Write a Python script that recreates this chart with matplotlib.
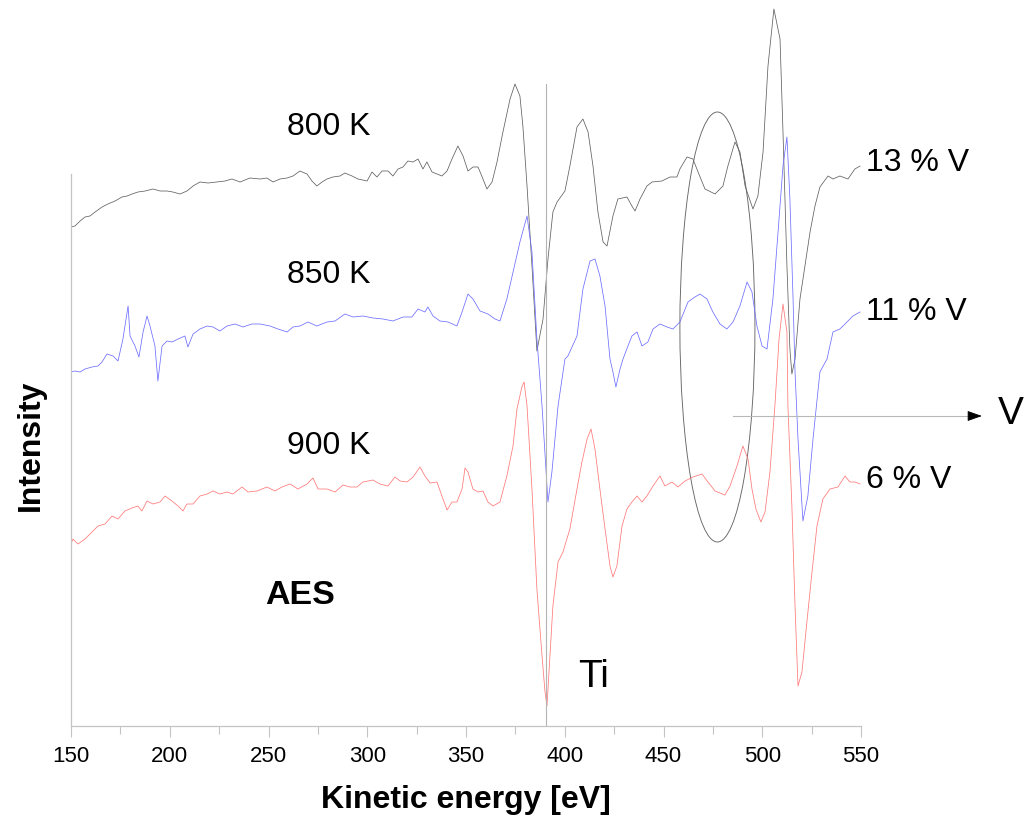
import matplotlib
matplotlib.use("Agg")
import matplotlib.pyplot as plt
from matplotlib.patches import Ellipse
from matplotlib.ticker import MultipleLocator

plt.rcParams['font.family'] = ['Liberation Sans', 'DejaVu Sans']

# AES spectra (kinetic energy in eV, intensity in arbitrary units, traces stacked)
black_ev = [150, 152.0, 154.6, 157.1, 159.6, 162.2, 165.7, 168.7, 172.3, 175.8,
            178.4, 180.9, 183.9, 187.5, 191.5, 195.1, 198.6, 201.6, 205.2, 208.7,
            211.8, 215.3, 219.4, 223.9, 228.0, 231.5, 235.6, 240.6, 245.7, 249.2,
            252.3, 255.8, 259.4, 262.4, 265.9, 269.5, 272.0, 274.5, 277.1, 279.6,
            282.6, 286.2, 288.7, 292.3, 295.3, 299.9, 302.4, 304.9, 307.5, 310.5,
            313.0, 315.6, 318.1, 320.6, 323.2, 325.7, 328.2, 330.2, 332.8, 335.3,
            337.8, 340.4, 342.9, 345.9, 348.5, 351.0, 353.5, 356.1, 358.6, 360.6,
            363.2, 365.7, 368.7, 372.3, 374.8, 377.3, 378.8, 380.9, 383.4, 385.9,
            389.0, 391.5, 394.0, 396.1, 400.1, 402.6, 406.2, 409.2, 411.8, 414.3,
            416.8, 419.4, 421.4, 424.4, 426.9, 431.5, 434.0, 435.6, 438.1, 441.6,
            444.2, 449.2, 453.3, 456.8, 458.3, 461.9, 464.9, 467.5, 471.0, 476.1,
            480.1, 482.6, 486.2, 488.7, 491.3, 495.3, 497.8, 500.4, 502.9, 505.9,
            509.0, 510.5, 512.5, 514.0, 515.0, 516.6, 519.1, 521.6, 524.2, 526.7,
            529.2, 533.3, 535.8, 539.3, 543.4, 546.9, 549.5]
black_int = [499, 500, 505, 509, 510, 514, 519, 522, 525, 529,
             530, 532, 534, 535, 537, 535, 535, 534, 532, 535,
             540, 544, 543, 544, 545, 547, 544, 548, 547, 548,
             544, 547, 548, 550, 555, 552, 545, 540, 544, 547,
             549, 550, 553, 550, 547, 545, 554, 549, 555, 555,
             550, 557, 559, 565, 564, 567, 557, 564, 554, 552,
             550, 555, 567, 580, 570, 555, 559, 559, 547, 537,
             544, 564, 594, 627, 642, 630, 600, 540, 460, 375,
             407, 467, 514, 524, 535, 560, 599, 607, 594, 560,
             514, 484, 480, 510, 527, 529, 520, 515, 527, 540,
             544, 545, 549, 549, 557, 569, 567, 554, 537, 532,
             540, 560, 584, 574, 540, 517, 530, 574, 660, 717,
             687, 594, 460, 377, 352, 367, 427, 460, 494, 520,
             539, 550, 547, 550, 547, 557, 560]

blue_ev = [150, 152.0, 154.6, 157.1, 160.6, 163.7, 165.7, 168.2, 171.3, 173.8,
           176.3, 178.9, 179.9, 182.4, 184.4, 186.5, 188.5, 190.0, 192.5, 194.0,
           196.1, 198.6, 201.1, 204.2, 207.7, 209.2, 211.8, 215.3, 218.9, 221.9,
           225.4, 229.0, 233.0, 237.1, 241.6, 245.7, 250.8, 254.8, 259.4, 262.4,
           265.9, 270.0, 274.5, 279.6, 283.7, 288.7, 292.8, 297.8, 302.9, 308.0,
           313.0, 318.1, 322.6, 325.7, 329.2, 330.7, 333.3, 336.8, 340.9, 345.4,
           348.0, 351.0, 353.5, 357.1, 361.1, 364.7, 367.2, 370.7, 373.8, 377.3,
           380.9, 383.4, 385.9, 388.5, 391.5, 393.5, 396.6, 400.1, 401.6, 406.2,
           409.2, 412.8, 415.3, 417.8, 420.4, 422.9, 424.4, 425.9, 428.0, 429.5,
           432.0, 434.0, 436.6, 439.1, 442.1, 444.7, 448.2, 451.8, 454.8, 458.3,
           462.4, 465.9, 468.5, 472.0, 475.0, 478.6, 482.1, 485.2, 488.7, 492.3,
           494.8, 497.3, 499.9, 502.4, 505.4, 508.0, 510.5, 512.5, 514.0, 515.6,
           516.6, 518.1, 520.6, 523.1, 525.7, 529.2, 532.8, 535.8, 539.3, 542.9,
           545.9, 549.5]
blue_int = [354, 355, 354, 357, 359, 360, 364, 372, 370, 365,
            387, 420, 390, 380, 369, 394, 410, 400, 380, 345,
            380, 385, 384, 387, 390, 379, 392, 397, 400, 399,
            395, 400, 402, 399, 402, 402, 400, 397, 394, 399,
            400, 404, 400, 404, 405, 412, 409, 410, 408, 407,
            405, 409, 409, 417, 414, 419, 410, 405, 404, 400,
            414, 432, 427, 415, 412, 407, 405, 427, 454, 484,
            510, 474, 387, 320, 224, 254, 320, 367, 370, 390,
            437, 465, 467, 450, 420, 367, 354, 339, 357, 367,
            380, 390, 394, 380, 384, 397, 402, 399, 397, 404,
            424, 429, 432, 427, 414, 402, 397, 404, 420, 444,
            434, 400, 380, 377, 427, 494, 560, 589, 527, 427,
            354, 287, 205, 230, 287, 354, 367, 394, 397, 404,
            410, 414]

red_ev = [150, 151.0, 153.5, 157.1, 160.6, 163.7, 167.2, 170.8, 173.8, 177.3,
          180.9, 183.9, 185.9, 188.5, 191.5, 195.1, 197.6, 201.1, 204.2, 206.7,
          208.7, 211.8, 215.3, 218.9, 221.9, 225.4, 229.0, 232.0, 236.6, 239.6,
          244.2, 249.2, 253.3, 256.8, 260.9, 264.9, 269.5, 272.5, 275.1, 279.6,
          283.7, 287.7, 291.3, 294.8, 297.8, 302.9, 306.4, 310.5, 314.0, 316.6,
          320.1, 323.2, 326.7, 329.2, 331.8, 335.3, 337.8, 340.4, 342.9, 345.4,
          348.0, 349.5, 351.0, 353.5, 356.1, 358.6, 361.1, 363.7, 367.2, 370.7,
          373.8, 375.8, 378.3, 379.4, 380.9, 383.4, 385.9, 388.5, 390.0, 391.0,
          392.5, 394.0, 396.6, 399.1, 402.6, 406.2, 408.7, 411.3, 413.3, 415.3,
          417.8, 420.4, 422.9, 424.4, 426.4, 429.0, 431.5, 434.0, 436.6, 439.1,
          441.6, 444.7, 448.2, 450.7, 454.3, 457.3, 460.9, 464.9, 469.5, 472.5,
          476.1, 481.1, 483.7, 487.2, 490.2, 492.8, 494.8, 496.8, 499.3, 501.4,
          503.9, 506.4, 508.5, 510.0, 510.5, 512.5, 513.0, 515.0, 516.6, 518.1,
          520.1, 522.6, 525.2, 527.7, 530.7, 534.3, 538.3, 541.9, 544.4, 546.9,
          549.5]
red_int = [182, 187, 182, 187, 194, 200, 202, 210, 207, 215,
           218, 220, 215, 225, 222, 224, 230, 225, 220, 215,
           222, 222, 230, 232, 235, 232, 234, 232, 239, 234,
           235, 239, 235, 239, 242, 237, 242, 248, 237, 237,
           234, 241, 239, 239, 244, 246, 242, 240, 249, 245,
           244, 249, 259, 250, 243, 244, 230, 216, 224, 224,
           237, 258, 254, 237, 234, 235, 224, 220, 224, 250,
           280, 317, 339, 344, 320, 237, 137, 70, 34, 20,
           70, 120, 164, 174, 197, 237, 264, 287, 297, 277,
           237, 197, 160, 149, 160, 200, 217, 224, 230, 224,
           230, 240, 250, 240, 244, 239, 245, 249, 252, 244,
           235, 231, 240, 260, 280, 267, 237, 217, 204, 214,
           254, 320, 387, 414, 422, 394, 320, 220, 120, 40,
           54, 104, 154, 200, 227, 237, 239, 250, 244, 244,
           242]

temp_labels = ["800 K", "850 K", "900 K"]
conc_labels = ["13 % V", "11 % V", "6 % V"]
ti_energy = 390.5

fig = plt.figure(figsize=(10.26, 8.2), dpi=100)
ax = fig.add_axes([71 / 1026, 93 / 820, 790 / 1026, 727 / 820])
ax.set_xlim(150, 550)
ax.set_ylim(0, 727)

axis_gray = '#c4c4c4'
ax.plot(black_ev, black_int, color='#606060', lw=0.55)
ax.plot(blue_ev, blue_int, color='#6e6eff', lw=0.55)
ax.plot(red_ev, red_int, color='#ff7878', lw=0.55)

# Ti marker line
ax.plot([ti_energy, ti_energy], [0, 642], color='#b4b4b4', lw=0.8)

# V region highlight and pointer
ax.add_patch(Ellipse((477.3, 399), width=38, height=430, fill=False,
                     edgecolor='#666666', lw=0.65))
ax.plot([485.2, 605.5], [310, 310], color='#b8b8b8', lw=0.8, clip_on=False)
ax.annotate('', xy=(611.2, 310), xytext=(605.0, 310),
            arrowprops=dict(arrowstyle='-|>,head_length=0.9,head_width=0.32',
                            color='black', lw=0.6, shrinkA=0, shrinkB=0,
                            mutation_scale=10),
            annotation_clip=False)
ax.text(619.5, 313, "V", fontsize=28, ha='left', va='center', clip_on=False)

# temperature and composition labels
for lbl, y in zip(temp_labels, [600, 452, 281]):
    ax.text(259.4, y, lbl, fontsize=23, ha='left', va='center')
for lbl, y in zip(conc_labels, [564, 415, 247]):
    ax.text(552.6, y, lbl, fontsize=23, ha='left', va='center', clip_on=False)
ax.text(406.7, 50, "Ti", fontsize=28, ha='left', va='center')
ax.text(248.2, 132, "AES", fontsize=24.5, fontweight='bold', ha='left', va='center')

# axes styling
for side in ('top', 'right'):
    ax.spines[side].set_visible(False)
ax.spines['left'].set_bounds(0, 552)
ax.spines['left'].set_color(axis_gray)
ax.spines['bottom'].set_color(axis_gray)
ax.spines['left'].set_linewidth(0.9)
ax.spines['bottom'].set_linewidth(0.9)
ax.set_yticks([])
ax.xaxis.set_major_locator(MultipleLocator(50))
ax.xaxis.set_minor_locator(MultipleLocator(25))
ax.tick_params(axis='x', which='major', direction='out', length=8, width=0.8,
               color=axis_gray, labelsize=16, pad=6)
ax.tick_params(axis='x', which='minor', direction='out', length=6, width=0.8,
               color=axis_gray)

ax.set_xlabel("Kinetic energy [eV]", fontsize=23, fontweight='bold', labelpad=13)
ax.set_ylabel("Intensity", fontsize=23, fontweight='bold', va='center')
ax.yaxis.set_label_coords(-0.0506, 0.388)

fig.savefig("out.png", dpi=100)
